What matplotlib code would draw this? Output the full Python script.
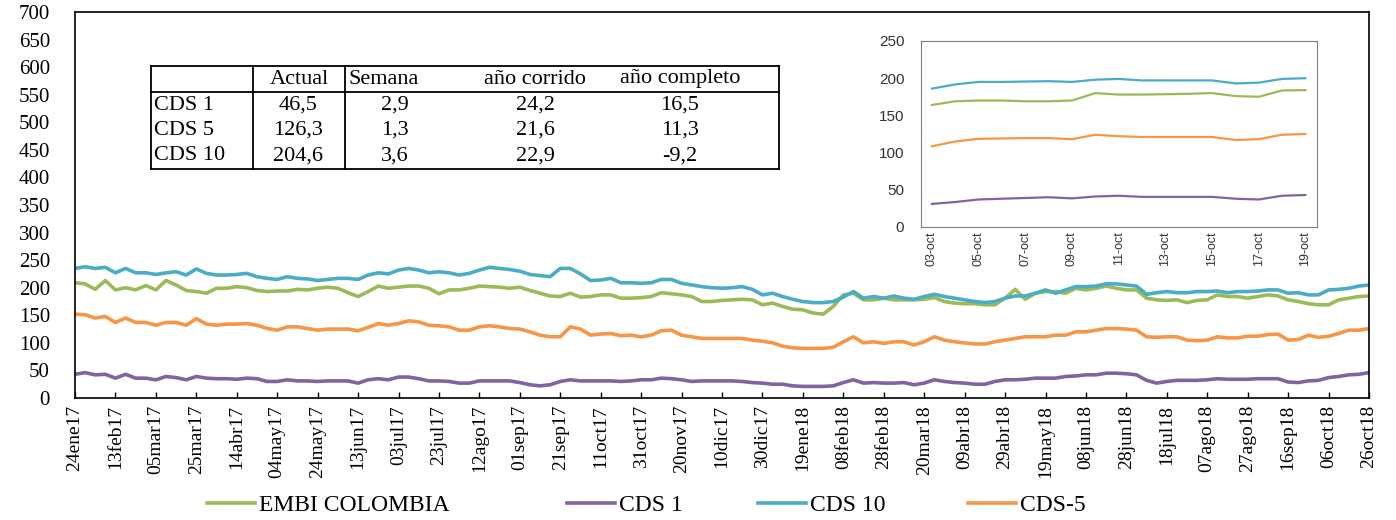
import numpy as np
import pandas as pd
import matplotlib
matplotlib.use('Agg')
import matplotlib.pyplot as plt

plt.rcParams['font.family'] = ['Liberation Serif', 'DejaVu Serif']

# serie principal: un dato cada 5 dias desde 24ene17
start_date = '2017-01-24'
end_date = '2018-10-26'

embi = [209, 207, 197, 213, 196, 200, 196, 204, 196, 213, 205, 195, 193, 190, 199, 199, 202, 200, 195, 193, 194, 194,
        197, 196, 199, 201, 199, 191, 184, 193, 203, 199, 201, 203, 203, 199, 189, 196, 196, 199, 203, 202, 201,
        199, 201, 195, 190, 185, 184, 190, 183, 184, 187, 187, 181, 181, 182, 184, 191, 189, 187, 184, 175, 175, 177,
        178, 179, 178, 169, 172, 166, 161, 160, 154, 152, 166, 187, 190, 178, 178, 181, 178, 178, 178, 179, 182,
        175, 172, 171, 171, 169, 169, 181, 197, 179, 190, 193, 193, 190, 199, 196, 199, 203, 199, 196, 196,
        181, 178, 177, 178, 173, 177, 178, 187, 184, 184, 181, 184, 187, 185, 178, 175, 171, 169, 169, 178, 181, 184, 185]

cds1 = [43, 46, 42, 43, 36, 43, 36, 36, 33, 39, 37, 33, 39, 36, 35, 35, 34, 36, 35, 30, 30, 33,
        31, 31, 30, 31, 31, 31, 27, 33, 35, 33, 38, 38, 35, 31, 31, 30, 27, 27, 31, 31, 31,
        31, 28, 24, 22, 24, 30, 33, 31, 31, 31, 31, 30, 31, 33, 33, 36, 35, 33, 30, 31, 31, 31,
        31, 30, 28, 27, 25, 25, 22, 21, 21, 21, 22, 28, 33, 27, 28, 27, 27, 28, 24, 27, 33,
        30, 28, 27, 25, 25, 30, 33, 33, 34, 36, 36, 36, 39, 40, 42, 42, 45, 45, 44, 42,
        32, 27, 30, 32, 32, 32, 33, 35, 34, 34, 34, 35, 35, 35, 29, 28, 31, 32, 37, 39, 42, 43, 46]

cds10 = [235, 238, 235, 237, 227, 235, 227, 227, 224, 227, 229, 223, 234, 226, 223, 223, 224, 226, 220, 217, 215, 220,
         217, 216, 213, 215, 217, 217, 215, 223, 227, 225, 232, 235, 232, 227, 229, 227, 223, 226, 232, 237, 235,
         233, 230, 224, 222, 220, 235, 235, 225, 213, 214, 217, 209, 209, 208, 209, 215, 215, 208, 205, 202, 200, 199,
         200, 202, 197, 187, 190, 184, 179, 175, 173, 173, 175, 183, 193, 181, 184, 181, 185, 181, 179, 184, 188,
         184, 181, 178, 175, 173, 175, 181, 185, 185, 190, 196, 190, 196, 202, 202, 203, 207, 207, 205, 203,
         188, 191, 193, 191, 191, 193, 193, 194, 191, 193, 193, 194, 196, 196, 190, 191, 187, 187, 196, 197, 199, 203, 205]

cds5 = [152, 151, 145, 148, 137, 145, 137, 137, 132, 137, 137, 132, 144, 134, 132, 134, 134, 135, 132, 126, 123, 129,
        129, 126, 123, 125, 125, 125, 122, 128, 135, 132, 135, 140, 138, 132, 131, 129, 123, 123, 129, 131, 129,
        126, 125, 120, 114, 111, 111, 129, 125, 114, 116, 117, 113, 114, 111, 114, 122, 123, 114, 111, 108, 108, 108,
        108, 108, 105, 103, 100, 94, 91, 90, 90, 90, 92, 102, 111, 100, 102, 99, 102, 102, 96, 102, 111,
        105, 102, 100, 98, 98, 102, 105, 108, 111, 111, 111, 114, 114, 120, 120, 123, 126, 126, 125, 123,
        111, 110, 111, 111, 105, 104, 105, 111, 109, 109, 112, 112, 115, 116, 105, 106, 114, 110, 112, 117, 123, 123, 126]

# recuadro: 03-oct a 19-oct
inset_days = ['03-oct', '04-oct', '05-oct', '06-oct', '07-oct', '08-oct', '09-oct', '10-oct', '11-oct',
              '12-oct', '13-oct', '14-oct', '15-oct', '16-oct', '17-oct', '18-oct', '19-oct']
inset_embi = [164, 169, 170, 170, 169, 169, 170, 180, 178, 178, 178.5, 179, 180, 176, 175, 183.5, 184]
inset_cds1 = [31, 33.6, 37, 38, 39, 40, 38.5, 41, 42, 40.5, 40.5, 40.5, 40.5, 38, 37, 42, 43]
inset_cds10 = [186, 191.7, 195, 195, 195.5, 196, 195, 198, 199, 197, 197, 197, 197, 193, 194, 199, 200]
inset_cds5 = [108.5, 115, 118.5, 119, 119.5, 119.5, 118, 124, 122, 121, 121, 121, 121, 117, 118, 124, 125]

table_cols = ['Actual', 'Semana', 'año corrido', 'año completo']
table_rows = ['CDS 1', 'CDS 5', 'CDS 10']
table_vals = [['46,5', '2,9', '24,2', '16,5'],
              ['126,3', '1,3', '21,6', '11,3'],
              ['204,6', '3,6', '22,9', '-9,2']]

meses = ['ene', 'feb', 'mar', 'abr', 'may', 'jun', 'jul', 'ago', 'sep', 'oct', 'nov', 'dic']

c_embi, c_cds1, c_cds10, c_cds5 = '#9BBB59', '#8064A2', '#4BACC6', '#F79646'

dates = pd.date_range(start_date, periods=len(embi), freq='5D')

W, H = 1396, 520
fig = plt.figure(figsize=(W / 100, H / 100), dpi=100)
ax = fig.add_axes([75 / W, 1 - 398 / H, (1369 - 75) / W, (398 - 12) / H])

lw = 2.6
lines = []
lines += ax.plot(dates, embi, color=c_embi, lw=lw, label='EMBI COLOMBIA')
lines += ax.plot(dates, cds1, color=c_cds1, lw=lw, label='CDS 1')
lines += ax.plot(dates, cds10, color=c_cds10, lw=lw, label='CDS 10')
lines += ax.plot(dates, cds5, color=c_cds5, lw=lw, label='CDS-5')

ax.set_xlim(pd.Timestamp(start_date), pd.Timestamp(end_date))
ax.set_ylim(0, 700)
ax.set_yticks(np.arange(0, 701, 50))
ticks = pd.date_range(start_date, end_date, freq='20D')
ax.set_xticks(ticks)
ax.set_xticklabels([f"{d.day:02d}{meses[d.month - 1]}{d.strftime('%y')}" for d in ticks],
                   rotation=90, fontsize=14)
ax.tick_params(axis='y', length=0, pad=18, labelsize=15)
ax.tick_params(axis='x', direction='in', length=4, width=1, pad=5)
for s in ax.spines.values():
    s.set_linewidth(1.2)

# leyenda: una por serie para respetar la posicion de cada entrada
for ln, x0 in zip(lines, [207, 567, 758, 968]):
    fig.legend(handles=[ln], loc='center left', bbox_to_anchor=(x0 / W, 1 - 505 / H), frameon=False,
               fontsize=17, handlelength=2.05, handletextpad=0.15, borderpad=0, borderaxespad=0)

# tabla
ov = fig.add_axes([0, 0, 1, 1], facecolor='none')
ov.set_xlim(0, W)
ov.set_ylim(H, 0)
ov.axis('off')
tl, tr = 151, 779
for y in [66, 92, 169]:
    ov.plot([tl, tr], [y, y], color='black', lw=1.3)
for x in [tl, 253, 345, tr]:
    ov.plot([x, x], [66, 169], color='black', lw=1.3)
row_y = [79, 105, 130.5, 156]
tfs = 16
ov.text(299, row_y[0], table_cols[0], ha='center', va='center', fontsize=tfs)
ov.text(348, row_y[0], table_cols[1], ha='left', va='center', fontsize=tfs)
ov.text(535, row_y[0], table_cols[2], ha='center', va='center', fontsize=tfs)
ov.text(680, row_y[0], table_cols[3], ha='center', va='center', fontsize=tfs)
val_x = [298, 395, 535, 680]
for i, r in enumerate(table_rows):
    ov.text(154, row_y[i + 1], r, ha='left', va='center', fontsize=tfs)
    for j, v in enumerate(table_vals[i]):
        ov.text(val_x[j], row_y[i + 1], v, ha='center', va='center', fontsize=tfs)

# recuadro
ins = fig.add_axes([921 / W, 1 - 227 / H, (1317 - 921) / W, (227 - 41) / H])
ix = np.arange(len(inset_days))
ins.plot(ix, inset_embi, color=c_embi, lw=1.6)
ins.plot(ix, inset_cds1, color=c_cds1, lw=1.6)
ins.plot(ix, inset_cds10, color=c_cds10, lw=1.6)
ins.plot(ix, inset_cds5, color=c_cds5, lw=1.6)
ins.set_xlim(-0.47, 16.5)
ins.set_ylim(0, 250)
ins.set_yticks(np.arange(0, 251, 50))
ins.set_xticks(ix[::2])
ins.set_xticklabels(inset_days[::2], rotation=90, family='Liberation Sans', fontsize=9, color='#333333')
for lab in ins.get_yticklabels():
    lab.set_family('Liberation Sans')
ins.tick_params(axis='y', length=0, pad=12, labelsize=11, labelcolor='#333333')
ins.tick_params(axis='x', length=0, pad=3)
for s in ins.spines.values():
    s.set_color('#808080')
    s.set_linewidth(0.8)

fig.savefig('out.png', dpi=100)
